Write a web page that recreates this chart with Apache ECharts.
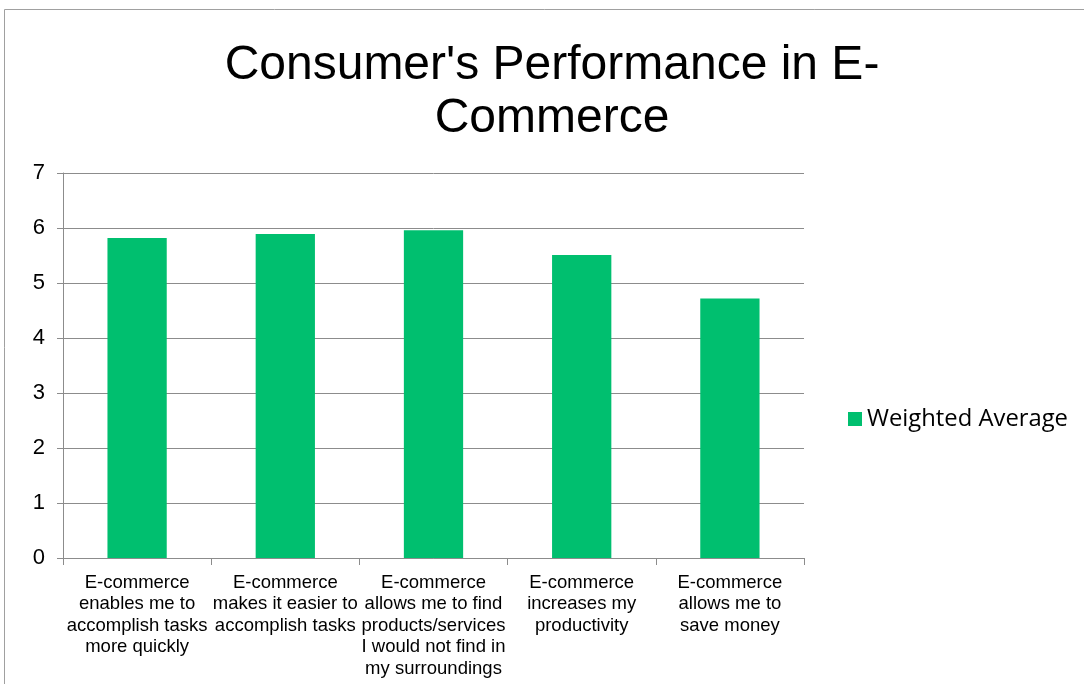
<!DOCTYPE html>
<html>
<head>
<meta charset="utf-8">
<script src="https://cdn.jsdelivr.net/npm/echarts@6/dist/echarts.min.js"></script>
<style>
  html, body { margin: 0; padding: 0; background: #fff; }
</style>
</head>
<body>
<div id="myChart" style="width:1084px;height:684px;"></div>
<script>
  // 数据
  const categories = [
    'E-commerce\nenables me to\naccomplish tasks\nmore quickly',
    'E-commerce\nmakes it easier to\naccomplish tasks',
    'E-commerce\nallows me to find\nproducts/services\nI would not find in\nmy surroundings',
    'E-commerce\nincreases my\nproductivity',
    'E-commerce\nallows me to\nsave money'
  ];
  const weightedAverage = [5.82, 5.89, 5.96, 5.51, 4.72];
  const yTicks = [0, 7, 1]; // min, max, interval

  let myChart = echarts.init(document.getElementById('myChart'));
  myChart.setOption({
    animation: false,
    title: {
      text: "Consumer's Performance in E-\nCommerce",
      left: 547,
      top: 34,
      textAlign: 'center',
      textStyle: {
        color: '#000000',
        fontFamily: 'Liberation Sans, Arial',
        fontWeight: 'normal',
        fontSize: 48,
        lineHeight: 53
      }
    },
    graphic: [{
      type: 'rect',
      shape: { x: 4.5, y: 9.5, width: 1200, height: 800 },
      style: { fill: 'none', stroke: '#a0a0a0', lineWidth: 1 },
      silent: true
    }],
    legend: {
      data: ['Weighted Average'],
      left: 843,
      top: 402,
      orient: 'vertical',
      icon: 'rect',
      itemWidth: 14,
      itemHeight: 14,
      itemGap: 7,
      textStyle: {
        color: '#000',
        fontFamily: 'Open Sans, Noto Sans, sans-serif',
        fontSize: 23.8
      }
    },
    grid: {
      left: 63,
      right: 280,
      top: 173,
      bottom: 126,
      containLabel: false
    },
    xAxis: {
      type: 'category',
      data: categories,
      axisLine: { show: true, lineStyle: { color: '#8c8c8c', width: 1 } },
      axisTick: { show: true, length: 7, alignWithLabel: false, lineStyle: { color: '#8c8c8c' } },
      axisLabel: {
        interval: 0,
        color: '#000',
        fontFamily: 'Liberation Sans, Arial',
        fontSize: 18.5,
        lineHeight: 21.5,
        margin: 14
      }
    },
    yAxis: {
      type: 'value',
      min: yTicks[0],
      max: yTicks[1],
      interval: yTicks[2],
      axisLine: { show: true, lineStyle: { color: '#8c8c8c', width: 1 } },
      axisTick: { show: true, length: 6, lineStyle: { color: '#8c8c8c' } },
      splitLine: { show: true, lineStyle: { color: '#8c8c8c', width: 1 } },
      axisLabel: {
        color: '#000',
        fontFamily: 'Liberation Sans, Arial',
        fontSize: 22,
        margin: 18
      }
    },
    series: [{
      name: 'Weighted Average',
      type: 'bar',
      data: weightedAverage,
      barCategoryGap: '60%',
      itemStyle: { color: '#00BF6F' }
    }]
  });
</script>
</body>
</html>
